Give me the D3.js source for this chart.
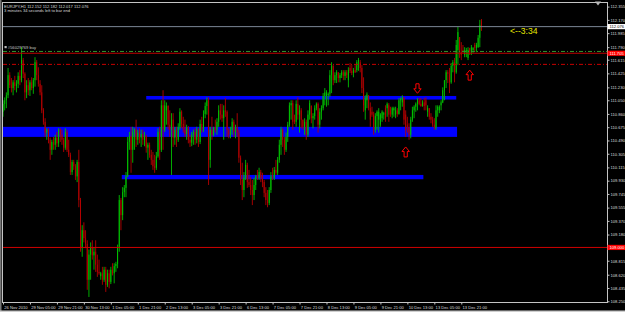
<!DOCTYPE html>
<html lang="en">
<head>
<meta charset="UTF-8">
<title>EURJPY,H1</title>
<style>
  body { margin: 0; background: #000; }
  svg { display: block; font-family: 'Liberation Sans', Arial, sans-serif; }
</style>
</head>
<body>
<svg id="chart"></svg>
<script src="https://cdn.jsdelivr.net/npm/d3@7"></script>
<script>
// H1 bars, 26 Nov 2010 13:00 -> 14 Dec 2010 09:00
const open = [
  110.89,111.00,111.05,111.12,111.40,111.26,111.22,111.30,111.25,111.28,
  111.39,111.33,111.61,111.42,111.16,111.26,111.19,111.30,111.22,111.33,
  111.58,111.40,111.28,111.16,110.91,110.75,110.60,110.64,110.50,110.36,
  110.47,110.43,110.53,110.45,110.64,110.57,110.50,110.39,110.61,110.36,
  110.29,110.05,110.19,110.13,109.99,110.19,109.66,109.00,109.24,109.13,
  109.05,108.55,108.90,109.00,108.89,108.94,108.76,108.66,108.60,108.64,
  108.55,108.69,108.48,108.64,108.52,108.69,108.64,108.74,108.77,109.00,
  109.66,109.45,109.77,109.83,109.99,110.47,110.55,110.36,110.61,110.64,
  110.50,110.60,110.53,110.58,110.50,110.55,110.39,110.43,110.29,110.22,
  110.13,110.11,110.27,110.61,110.36,110.98,110.64,110.91,110.97,110.71,
  110.64,110.78,110.53,110.64,110.50,110.68,110.89,110.72,110.64,110.58,
  110.67,110.50,110.46,110.57,110.61,110.50,110.64,110.47,110.72,110.64,
  110.86,110.97,111.05,110.22,110.64,110.57,110.67,110.64,110.75,110.91,
  110.85,110.80,110.91,110.89,110.64,110.57,110.64,110.75,110.61,110.67,
  110.60,110.25,109.94,109.80,109.97,110.15,109.91,109.87,109.80,109.73,
  109.87,109.99,109.97,110.05,109.97,109.91,109.76,109.66,109.62,109.80,
  109.99,109.97,110.08,110.04,110.22,110.43,110.64,110.50,110.36,110.54,
  110.71,110.98,111.01,110.78,110.75,111.00,110.85,110.91,110.78,110.68,
  110.75,110.57,110.85,110.97,110.80,110.83,110.94,111.00,110.71,110.89,
  110.94,111.11,111.11,111.12,111.14,111.40,111.53,111.33,111.40,111.44,
  111.36,111.40,111.44,111.39,111.44,111.33,111.50,111.46,111.43,111.47,
  111.47,111.58,111.58,111.50,111.22,110.91,111.05,111.12,110.94,110.89,
  110.85,110.64,110.83,110.78,110.71,110.80,110.85,110.94,110.94,110.98,
  110.91,110.85,110.91,110.85,110.91,110.86,111.05,111.02,111.09,110.85,
  110.71,110.67,110.57,110.78,110.91,110.96,111.00,111.05,111.00,110.97,
  111.02,111.05,110.89,110.94,110.82,110.78,110.71,110.67,110.91,110.91,
  110.98,111.02,111.19,111.33,111.44,111.42,111.30,111.53,111.58,111.44,
  111.75,111.93,111.72,111.75,111.68,111.72,111.64,111.78,111.72,111.75,
  111.82,111.78,111.79,111.92,112.152
];
const high = [
  111.05,111.09,111.16,111.50,111.44,111.36,111.33,111.39,111.33,111.44,
  111.47,111.79,111.64,111.44,111.33,111.36,111.33,111.37,111.36,111.65,
  111.61,111.51,111.33,111.26,110.94,110.80,110.66,110.66,110.53,110.50,
  110.54,110.57,110.61,110.66,110.66,110.64,110.53,110.66,110.64,110.50,
  110.32,110.22,110.22,110.16,110.22,110.36,109.69,109.31,109.35,109.24,
  109.10,108.97,109.07,109.10,109.00,109.10,108.90,108.83,108.66,108.73,
  108.73,108.73,108.69,108.69,108.73,108.78,108.78,108.80,109.04,109.73,
  109.69,109.84,109.87,110.05,110.54,110.61,110.68,110.68,110.66,110.78,
  110.64,110.66,110.64,110.64,110.61,110.57,110.46,110.46,110.36,110.33,
  110.29,110.33,110.66,110.68,111.05,111.19,111.05,111.02,110.98,110.91,
  110.87,110.87,110.68,110.68,110.73,110.94,110.91,110.82,110.78,110.71,
  110.69,110.57,110.61,110.64,110.66,110.68,110.66,110.78,110.82,110.91,
  111.02,111.09,111.09,110.68,110.82,110.68,110.78,110.80,110.98,111.00,
  111.00,110.98,111.08,110.91,110.66,110.68,110.80,110.78,110.71,110.87,
  110.64,110.28,110.18,110.05,110.22,110.18,110.08,109.98,109.94,109.97,
  110.01,110.08,110.11,110.08,110.04,109.94,109.84,109.80,109.84,110.05,
  110.11,110.12,110.22,110.26,110.50,110.68,110.66,110.54,110.60,110.75,
  111.02,111.05,111.05,110.85,111.05,111.09,110.98,110.94,110.78,110.80,
  110.78,110.91,111.05,110.98,110.87,110.98,111.02,111.02,110.94,110.98,
  111.15,111.22,111.19,111.16,111.47,111.58,111.54,111.44,111.47,111.44,
  111.43,111.47,111.47,111.47,111.47,111.51,111.57,111.54,111.50,111.54,
  111.61,111.64,111.61,111.54,111.37,111.12,111.16,111.12,111.02,110.96,
  110.89,110.87,110.91,110.94,110.87,110.91,110.89,110.98,111.02,111.01,
  110.96,110.96,110.96,110.96,110.94,111.08,111.09,111.12,111.09,110.91,
  110.82,110.73,110.82,110.96,110.98,111.02,111.08,111.08,111.08,111.05,
  111.08,111.09,110.98,110.94,110.87,110.82,110.80,110.98,110.98,110.98,
  111.05,111.23,111.33,111.47,111.47,111.50,111.57,111.61,111.64,111.89,
  112.07,111.93,111.86,111.82,111.79,111.78,111.79,111.78,111.82,111.79,
  111.85,111.85,111.96,112.17,112.182
];
const low = [
  110.82,110.91,110.94,111.08,111.22,111.16,111.12,111.19,111.16,111.22,
  111.26,111.30,111.36,111.05,111.08,111.12,111.11,111.19,111.14,111.24,
  111.33,111.24,111.12,110.87,110.71,110.54,110.50,110.45,110.22,110.29,
  110.36,110.36,110.40,110.40,110.47,110.43,110.33,110.36,110.33,110.26,
  110.01,110.01,110.08,109.94,109.91,109.56,108.94,108.87,109.07,108.99,
  108.41,108.31,108.55,108.83,108.69,108.66,108.59,108.62,108.55,108.48,
  108.52,108.38,108.45,108.43,108.49,108.61,108.50,108.66,108.71,108.94,
  109.24,109.38,109.70,109.70,109.98,110.36,110.04,110.18,110.36,110.40,
  110.43,110.45,110.40,110.43,110.41,110.32,110.22,110.25,110.15,110.08,
  110.04,110.08,110.25,110.22,110.33,110.36,110.61,110.71,110.64,110.54,
  110.01,110.40,110.43,110.40,110.47,110.64,110.66,110.60,110.54,110.50,
  110.45,110.40,110.41,110.43,110.43,110.45,110.40,110.44,110.60,110.61,
  110.80,110.85,109.87,110.11,110.50,110.55,110.60,110.57,110.68,110.78,
  110.75,110.50,110.82,110.54,110.52,110.52,110.57,110.54,110.52,110.54,
  110.18,109.87,109.66,109.70,109.94,109.83,109.84,109.73,109.59,109.66,
  109.80,109.94,109.94,109.91,109.84,109.70,109.59,109.56,109.59,109.76,
  109.94,109.94,110.01,110.01,110.18,110.29,110.40,110.29,110.33,110.47,
  110.68,110.78,110.64,110.72,110.68,110.78,110.60,110.66,110.64,110.57,
  110.50,110.54,110.78,110.73,110.66,110.78,110.91,110.60,110.66,110.78,
  110.91,110.98,110.96,110.98,111.10,111.15,111.26,111.29,111.29,111.30,
  111.30,111.36,111.33,111.33,111.36,111.23,111.43,111.40,111.37,111.43,
  111.44,111.46,111.44,111.15,110.89,110.78,110.94,110.91,110.68,110.82,
  110.57,110.60,110.64,110.60,110.68,110.75,110.78,110.75,110.82,110.75,
  110.82,110.80,110.82,110.80,110.82,110.85,110.91,110.96,110.71,110.54,
  110.60,110.50,110.52,110.75,110.80,110.89,110.91,110.98,110.96,110.96,
  110.91,110.91,110.82,110.78,110.73,110.68,110.64,110.64,110.82,110.87,
  110.91,111.01,111.05,111.22,111.29,111.15,111.28,111.44,111.30,111.42,
  111.54,111.64,111.61,111.71,111.65,111.65,111.61,111.68,111.68,111.71,
  111.72,111.72,111.78,111.79,112.017
];
const close = [
  111.00,111.05,111.12,111.40,111.26,111.22,111.30,111.25,111.28,111.39,
  111.33,111.61,111.42,111.16,111.26,111.19,111.30,111.22,111.33,111.58,
  111.40,111.28,111.16,110.91,110.75,110.60,110.64,110.50,110.36,110.47,
  110.43,110.53,110.45,110.64,110.57,110.50,110.39,110.61,110.36,110.29,
  110.05,110.19,110.13,109.99,110.19,109.66,109.00,109.24,109.13,109.05,
  108.55,108.90,109.00,108.89,108.94,108.76,108.66,108.64,108.64,108.55,
  108.69,108.48,108.64,108.52,108.69,108.64,108.74,108.77,109.00,109.66,
  109.45,109.77,109.83,109.99,110.47,110.55,110.36,110.61,110.64,110.50,
  110.60,110.53,110.58,110.50,110.55,110.39,110.43,110.29,110.22,110.13,
  110.11,110.27,110.61,110.36,110.98,110.64,110.98,110.97,110.71,110.64,
  110.78,110.53,110.64,110.50,110.68,110.89,110.72,110.64,110.58,110.67,
  110.50,110.46,110.57,110.61,110.50,110.64,110.47,110.72,110.64,110.86,
  110.97,111.05,110.22,110.64,110.57,110.67,110.64,110.75,110.91,110.85,
  110.80,110.91,110.89,110.64,110.57,110.64,110.75,110.61,110.67,110.60,
  110.25,109.94,109.80,109.97,110.15,109.91,109.87,109.80,109.73,109.87,
  109.99,109.97,110.05,109.97,109.91,109.76,109.66,109.62,109.80,109.99,
  109.97,110.08,110.04,110.22,110.43,110.64,110.50,110.36,110.54,110.71,
  110.98,111.01,110.75,110.75,111.00,110.85,110.91,110.78,110.68,110.75,
  110.57,110.85,111.01,110.80,110.83,110.94,111.00,110.71,110.89,110.94,
  111.11,111.16,111.16,111.14,111.40,111.53,111.33,111.40,111.44,111.36,
  111.40,111.44,111.39,111.44,111.40,111.47,111.46,111.43,111.47,111.44,
  111.58,111.61,111.50,111.22,110.98,111.08,111.13,110.94,110.78,110.85,
  110.64,110.83,110.89,110.89,110.85,110.89,110.87,110.80,111.00,110.85,
  110.86,110.94,110.94,110.91,110.86,111.05,111.07,111.09,110.78,110.64,
  110.67,110.57,110.78,110.91,110.96,111.00,111.05,111.00,110.97,111.02,
  110.97,110.98,110.94,110.82,110.78,110.71,110.67,110.91,110.96,110.96,
  111.02,111.19,111.33,111.44,111.42,111.30,111.53,111.58,111.44,111.82,
  112.00,111.72,111.68,111.72,111.75,111.75,111.75,111.72,111.79,111.78,
  111.78,111.82,111.92,112.10,112.076
];

const timeLabels = ['26 Nov 2010', '29 Nov 05:00', '29 Nov 21:00', '30 Nov 13:00', '1 Dec 05:00',
  '1 Dec 21:00', '2 Dec 13:00', '3 Dec 05:00', '3 Dec 21:00', '6 Dec 13:00', '7 Dec 05:00',
  '7 Dec 21:00', '8 Dec 13:00', '9 Dec 05:00', '9 Dec 21:00', '10 Dec 13:00', '13 Dec 05:00', '13 Dec 21:00'];
const timeLabelBars = [0, 16, 32, 48, 64, 80, 96, 112, 128, 144, 160, 176, 192, 208, 224, 240, 256, 272];

const priceLabels = [112.355, 112.170, 111.985, 111.790, 111.615, 111.425, 111.230, 111.050, 110.860,
  110.675, 110.490, 110.305, 110.115, 109.930, 109.745, 109.555, 109.370, 109.180, 109.000,
  108.815, 108.620, 108.435, 108.250];

const title = 'EURJPY,H1  112.152 112.182 112.017 112.076';
const subtitle = '3 minutes 34 seconds left to bar end';
const timerText = '<--3:34';
const orderText = '#56029769 buy';

const bidPrice = 112.076;
const orderPrice = 111.73;
const lineLevel = 111.705;
const stopLevel = 111.55;
const supportLevel = 109.000;

// rectangles: [from bar, to bar, top price, bottom price]
const zones = [
  [85, 269, 111.11, 111.06],
  [0, 269.5, 110.68, 110.54],
  [70.5, 249.5, 110.01, 109.95]
];
// arrow objects: bar, price of arrow top, direction
const arrows = [
  { bar: 239, price: 110.40, dir: 'up' },
  { bar: 246, price: 111.28, dir: 'down' },
  { bar: 277, price: 111.47, dir: 'up' }
];

const width = 625, height = 312;
const plotL = 3, plotR = 607.5, plotT = 2.5, plotB = 302.5;

const svg = d3.select('#chart').attr('width', width).attr('height', height);
svg.append('rect').attr('width', width).attr('height', height).attr('fill', '#000');
svg.append('rect').attr('x', 0).attr('y', 0).attr('width', 1.5).attr('height', height).attr('fill', '#777');
svg.append('rect').attr('x', 0).attr('y', 310.5).attr('width', width).attr('height', 1.5).attr('fill', '#cfcfcf');

const x = d3.scaleLinear().domain([0, open.length - 1]).range([3, 481.5]);
const y = d3.scaleLinear().domain([108.435, 112.355]).range([288, 6.6]);

svg.append('clipPath').attr('id', 'plot')
  .append('rect').attr('x', plotL).attr('y', plotT).attr('width', plotR - plotL).attr('height', plotB - plotT);
const plot = svg.append('g').attr('clip-path', 'url(#plot)');

// blue zones (behind the candles)
plot.append('g').selectAll('rect')
  .data(zones)
  .join('rect')
  .attr('x', d => x(d[0]))
  .attr('width', d => x(d[1]) - x(d[0]))
  .attr('y', d => y(d[2]))
  .attr('height', d => y(d[3]) - y(d[2]))
  .attr('fill', '#0000ff');

// candles
const bars = open.map((o, i) => ({ i, o, h: high[i], l: low[i], c: close[i] }));
const upCol = '#00c000', downCol = '#b40000';
const candles = plot.append('g');
candles.selectAll('line')
  .data(bars)
  .join('line')
  .attr('x1', d => x(d.i)).attr('x2', d => x(d.i))
  .attr('y1', d => y(d.h)).attr('y2', d => y(d.l))
  .attr('stroke', d => d.c >= d.o ? upCol : downCol)
  .attr('stroke-width', 0.9);
candles.selectAll('rect')
  .data(bars)
  .join('rect')
  .attr('x', d => x(d.i) - 0.5)
  .attr('width', 1)
  .attr('y', d => y(Math.max(d.o, d.c)))
  .attr('height', d => Math.max(0.8, Math.abs(y(d.o) - y(d.c))))
  .attr('fill', d => d.c >= d.o ? upCol : downCol);

// horizontal levels
const hline = (price, color, dash) => {
  plot.append('line')
    .attr('x1', plotL).attr('x2', plotR)
    .attr('y1', y(price)).attr('y2', y(price))
    .attr('stroke', color).attr('stroke-width', 1)
    .attr('stroke-dasharray', dash || null);
};
hline(bidPrice, '#7c8796');
hline(orderPrice, '#2f962f', '4,2,1,2');
hline(lineLevel, '#c00000');
hline(stopLevel, '#c80000', '4,2,1,2');
hline(supportLevel, '#d00000');

// hollow red arrows
const upArrow = 'M0,0 L3.7,4.5 L1.6,4.5 L1.6,10 L-1.6,10 L-1.6,4.5 L-3.7,4.5 Z';
const downArrow = 'M-1.6,0 L1.6,0 L1.6,5 L3.7,5 L0,9.5 L-3.7,5 L-1.6,5 Z';
plot.append('g').selectAll('path')
  .data(arrows)
  .join('path')
  .attr('transform', d => `translate(${x(d.bar)},${y(d.price)})`)
  .attr('d', d => d.dir === 'up' ? upArrow : downArrow)
  .attr('fill', '#000')
  .attr('stroke', '#ff0000')
  .attr('stroke-width', 1);

// texts inside the chart
svg.append('text').attr('x', 4).attr('y', 7.5).attr('font-size', 4.1).attr('fill', '#d8d8d8').text(title);
svg.append('text').attr('x', 4).attr('y', 12.2).attr('font-size', 4.1).attr('fill', '#d8d8d8').text(subtitle);
svg.append('rect').attr('x', 4.5).attr('y', 46).attr('width', 2.2).attr('height', 2.2).attr('fill', '#bbb');
svg.append('text').attr('x', 7.8).attr('y', 48.8).attr('font-size', 4.1).attr('fill', '#c8c8c8').text(orderText);
svg.append('text').attr('x', 510).attr('y', 34.2).attr('font-size', 8.6).attr('fill', '#e6e600').text(timerText);

// frame
svg.append('rect')
  .attr('x', plotL - 0.5).attr('y', plotT).attr('width', plotR - plotL + 0.5).attr('height', plotB - plotT)
  .attr('fill', 'none').attr('stroke', '#c4c4c4').attr('stroke-width', 1);
svg.append('path').attr('d', 'M595,1.5 L601,1.5 L598,5.5 Z').attr('fill', '#b8b8b8');

// price axis
const yAxis = svg.append('g')
  .attr('transform', `translate(${plotR},0)`)
  .call(d3.axisRight(y).tickValues(priceLabels).tickFormat(d3.format('.3f')).tickSize(2).tickPadding(1));
yAxis.select('.domain').remove();
yAxis.selectAll('line').attr('stroke', '#c4c4c4');
yAxis.selectAll('text').attr('font-size', 4.1).attr('fill', '#dcdcdc').attr('font-family', null);

// time axis
const xAxis = svg.append('g')
  .attr('transform', `translate(0,${plotB})`)
  .call(d3.axisBottom(x).tickValues(timeLabelBars).tickFormat((d, i) => timeLabels[i]).tickSize(2).tickPadding(1.5));
xAxis.select('.domain').remove();
xAxis.selectAll('line').attr('stroke', '#c4c4c4');
xAxis.selectAll('text').attr('font-size', 4.1).attr('fill', '#dcdcdc').attr('font-family', null)
  .attr('text-anchor', 'start').attr('x', 0.8);

// price boxes on the axis
const priceBox = (price, fill, textColor) => {
  svg.append('rect').attr('x', plotR).attr('y', y(price) - 2.6).attr('width', width - plotR).attr('height', 5.2).attr('fill', fill);
  svg.append('text').attr('x', plotR + 2).attr('y', y(price) + 1.5).attr('font-size', 4.1)
    .attr('fill', textColor).text(d3.format('.3f')(price));
};
priceBox(bidPrice, '#ffffff', '#000');
priceBox(lineLevel, '#ff0000', '#fff');
priceBox(supportLevel, '#ff0000', '#fff');
</script>
</body>
</html>
